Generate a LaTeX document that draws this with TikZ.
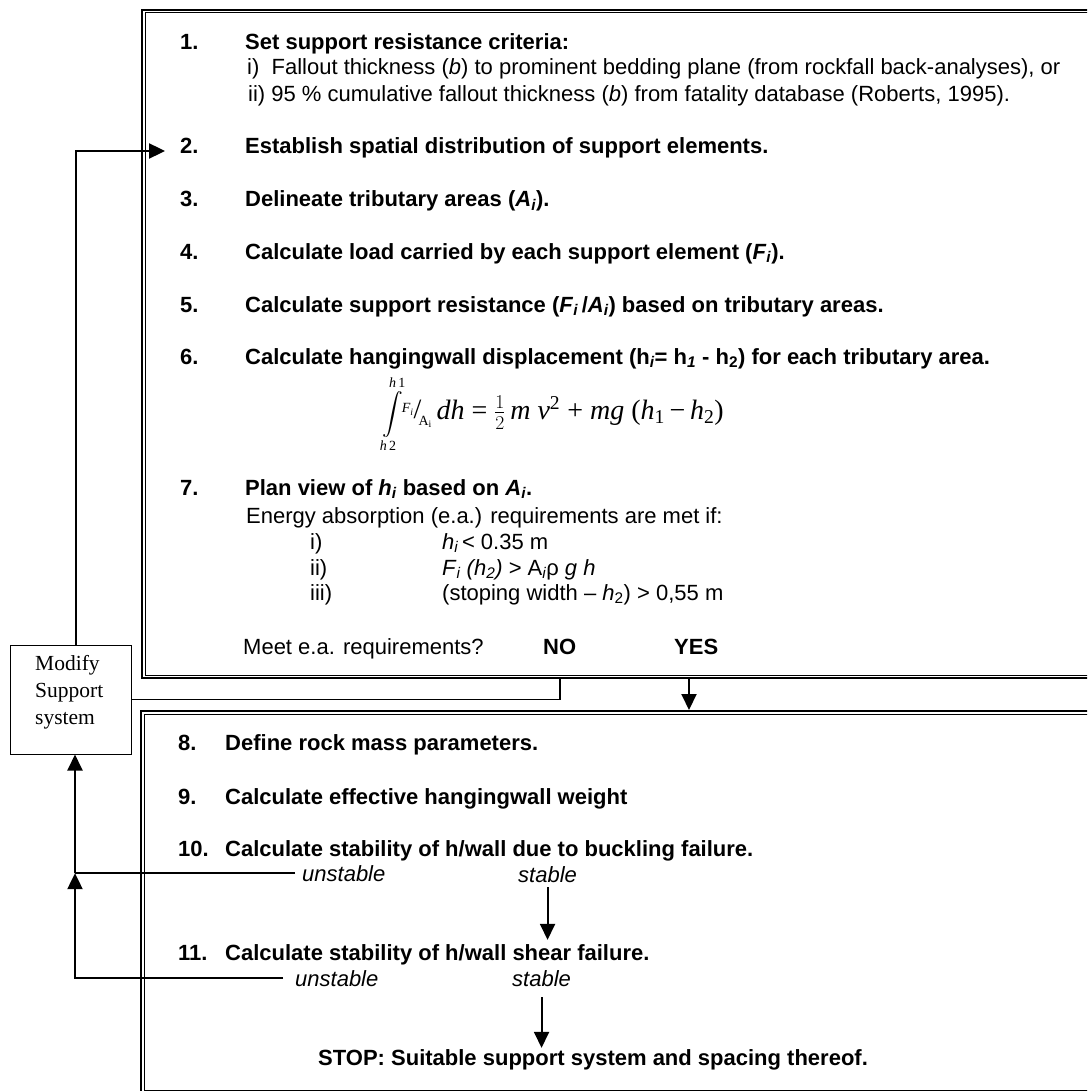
\documentclass[tikz,border=0pt]{standalone}
\usepackage{fix-cm}
\usepackage{amsmath}
\usepackage{fontspec}
\setmainfont{Liberation Sans}
\newfontfamily\tms{Liberation Serif}
\usetikzlibrary{arrows.meta}
\newcommand\fsz{\fontsize{22}{26}\selectfont}
\begin{document}
\begin{tikzpicture}[x=1pt,y=-1pt,font=\fsz,
  t/.style={anchor=base west,inner sep=0pt},
  b/.style={t,font=\fsz\bfseries},
  it/.style={t,font=\fsz\itshape},
  arr/.style={line width=2pt,-{Triangle[length=16pt,width=15pt]}},
  ln/.style={line width=1.6pt},
  outerbox/.style={draw,line width=2pt,inner sep=0pt}]
\useasboundingbox (0,0) rectangle (1087,1091);
\clip (0,0) rectangle (1087,1091);
\fill[white] (0,0) rectangle (1087,1091);
% frames
\node[outerbox,minimum width=958pt,minimum height=668pt] (topbox) at (621,344) {};
\draw[line width=1pt] ([shift={(4,4)}]topbox.north west) rectangle ([shift={(-4,-4)}]topbox.south east);
\node[outerbox,minimum width=960pt,minimum height=382pt] (botbox) at (621,902) {};
\draw[line width=1pt] ([shift={(4,4)}]botbox.north west) rectangle ([shift={(-4,-4)}]botbox.south east);
% modify box
\node[draw,line width=1pt,minimum width=121pt,minimum height=109pt,inner sep=0pt] (modify) at (70.5,699.5) {};
\node[anchor=north west,align=left,inner sep=0pt,font=\tms\fontsize{21.5}{27}\selectfont] (modtext) at (35,655) {Modify\\Support\\system};
% steps 1-7
\node[b] (n1) at (180,50) {1.};
\node[b] (t1) at (245,50) {Set support resistance criteria:};
\node[t] (t1a) at (247,75) {i)\ \ Fallout thickness (\textit{b}) to prominent bedding plane (from rockfall back-analyses), or};
\node[t] (t1b) at (248,102) {ii) 95 \% cumulative fallout thickness (\textit{b}) from fatality database (Roberts, 1995).};
\node[b] (n2) at (180,154) {2.};
\node[b] (t2) at (245,154) {Establish spatial distribution of support elements.};
\node[b] (n3) at (180,207) {3.};
\node[b] (t3) at (245,207) {Delineate tributary areas (\textit{A}\textsubscript{\itshape i}).};
\node[b] (n4) at (180,259) {4.};
\node[b] (t4) at (245,259) {Calculate load carried by each support element (\textit{F}\textsubscript{\itshape i}).};
\node[b] (n5) at (180,312) {5.};
\node[b] (t5) at (245,312) {Calculate support resistance (\textit{F}\textsubscript{\itshape i}\,/\textit{A}\textsubscript{\itshape i}) based on tributary areas.};
\node[b] (n6) at (180,364) {6.};
\node[b] (t6) at (245,364) {Calculate hangingwall displacement (h\textsubscript{\itshape i}= h\textsubscript{\itshape 1} - h\textsubscript{2}) for each tributary area.};
\node[anchor=west,inner sep=0pt,font=\tms\fontsize{28}{32}\selectfont] (formula) at (382,414) {{\fontsize{20}{24}\selectfont$\displaystyle\int\limits_{\text{\itshape h\,\upshape 2}}^{\text{\itshape h\,\upshape 1}}$}\kern-1pt\raisebox{0.5ex}{\fontsize{14}{14}\selectfont\itshape F\textsubscript{i}}\kern0pt\raisebox{0.05ex}{/}\kern-3pt\raisebox{-0.45ex}{\fontsize{14}{14}\selectfont A\textsubscript{i}}\,\textit{dh} = $\tfrac{1}{2}$\,\textit{m v}\textsuperscript{2} + \textit{mg} (\textit{h}\textsubscript{1}\,−\,\textit{h}\textsubscript{2})};
\node[b] (n7) at (180,495) {7.};
\node[b] (t7) at (245,495) {Plan view of \textit{h}\textsubscript{\itshape i} based on \textit{A}\textsubscript{\itshape i}.};
\node[t] (t7a) at (246,523) {Energy absorption (e.a.) requirements are met if:};
\node[t] (r1) at (310,549) {i)};
\node[t] (c1) at (442,549) {\textit{h}\textsubscript{\itshape i}\,< 0.35 m};
\node[t] (r2) at (310,575) {ii)};
\node[t] (c2) at (442,575) {\textit{F}\textsubscript{\itshape i} \textit{(h}\textsubscript{\itshape 2}\textit{)} > A\textsubscript{\itshape i}ρ \textit{g h}};
\node[t] (r3) at (310,600) {iii)};
\node[t] (c3) at (442,600) {(stoping width \textendash\ \textit{h}\textsubscript{2}) > 0,55 m};
\node[t] (meet) at (243,654) {Meet e.a. requirements?};
\node[b] (no) at (543,654) {NO};
\node[b] (yes) at (674,654) {YES};
\coordinate (yesx) at (689,0);
% steps 8-11
\node[b] (n8) at (178,750) {8.};
\node[b] (t8) at (225,750) {Define rock mass parameters.};
\node[b] (n9) at (178,804) {9.};
\node[b] (t9) at (225,804) {Calculate effective hangingwall weight};
\node[b] (n10) at (178,856) {10.};
\node[b] (t10) at (225,856) {Calculate stability of h/wall due to buckling failure.};
\node[it] (us1) at (302,881) {unstable};
\node[it] (st1) at (518,882) {stable};
\node[b] (n11) at (178,960) {11.};
\node[b] (t11) at (225,960) {Calculate stability of h/wall shear failure.};
\node[it] (us2) at (295,986) {unstable};
\node[it] (st2) at (512,986) {stable};
\node[b] (stop) at (318,1065) {STOP: Suitable support system and spacing thereof.};
% connectors
\coordinate (j0) at (76,151);
\coordinate (in2) at (165,151);
\draw[arr,line width=2.4pt] (modify.north -| j0) -- (j0) -- (in2);
\draw[ln] (no.south |- topbox.south) |- (modify.east);
\draw[arr] (yesx |- topbox.south) -- (yesx |- botbox.north);
\coordinate (vx) at (75,0);
\draw[ln,shorten <=7pt] (us1.west) -- (vx |- us1.west);
\draw[arr] (vx |- us1.west) -- (vx |- modify.south);
\draw[arr,shorten <=12pt] (us2.west) -| (vx |- us1.west);
\draw[arr,shorten <=5pt,shorten >=4pt] (st1.south) -- (st1.south |- t11.north);
\draw[arr,shorten <=11pt,shorten >=1pt] (st2.south) -- (st2.south |- stop.north);
\end{tikzpicture}
\end{document}
